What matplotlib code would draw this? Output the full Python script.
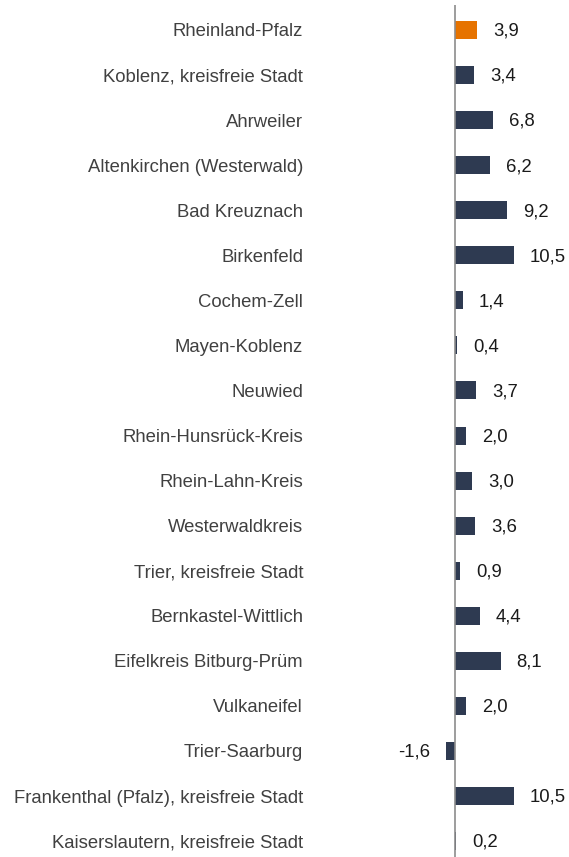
import matplotlib
matplotlib.use("Agg")
import matplotlib.pyplot as plt

categories = ["Rheinland-Pfalz", "Koblenz, kreisfreie Stadt", "Ahrweiler",
              "Altenkirchen (Westerwald)", "Bad Kreuznach", "Birkenfeld",
              "Cochem-Zell", "Mayen-Koblenz", "Neuwied", "Rhein-Hunsrück-Kreis",
              "Rhein-Lahn-Kreis", "Westerwaldkreis", "Trier, kreisfreie Stadt",
              "Bernkastel-Wittlich", "Eifelkreis Bitburg-Prüm", "Vulkaneifel",
              "Trier-Saarburg", "Frankenthal (Pfalz), kreisfreie Stadt",
              "Kaiserslautern, kreisfreie Stadt"]
values = [3.9, 3.4, 6.8, 6.2, 9.2, 10.5, 1.4, 0.4, 3.7, 2.0, 3.0, 3.6, 0.9,
          4.4, 8.1, 2.0, -1.6, 10.5, 0.2]

plt.rcParams['font.family'] = ['Liberation Sans', 'DejaVu Sans']

W, H = 569, 857
fig = plt.figure(figsize=(W/100, H/100), dpi=100)

zero_px = 455
scale = 5.62
ax_left_px = 310
ax_top_px = 5
row0 = 30
step = 45.06
FS = 13.3

ax = fig.add_axes([ax_left_px/W, 0, (W-ax_left_px)/W, (H-ax_top_px)/H])
ax.set_xlim((ax_left_px-zero_px)/scale, (W-zero_px)/scale)
ax.set_ylim((H-row0)/step, (ax_top_px-row0)/step)

colors = ['#E67300'] + ['#2E3A51']*(len(values)-1)
ypos = list(range(len(values)))
ax.barh(ypos, values, height=0.4, color=colors)
ax.axvline(0, color='#8C8C8C', lw=1.2)

for y, v in zip(ypos, values):
    txt = f"{v:.1f}".replace('.', ',')
    off = 16/scale
    if v >= 0:
        ax.text(v+off, y+0.03, txt, va='center', ha='left', fontsize=FS, color='#1A1A1A')
    else:
        ax.text(v-off, y+0.03, txt, va='center', ha='right', fontsize=FS, color='#1A1A1A')

ax.set_yticks(ypos)
ax.set_yticklabels(categories, fontsize=FS, color='#404040')
ax.tick_params(axis='y', length=0, pad=5)
ax.set_xticks([])
for s in ax.spines.values():
    s.set_visible(False)

fig.savefig('out.png', dpi=100)
